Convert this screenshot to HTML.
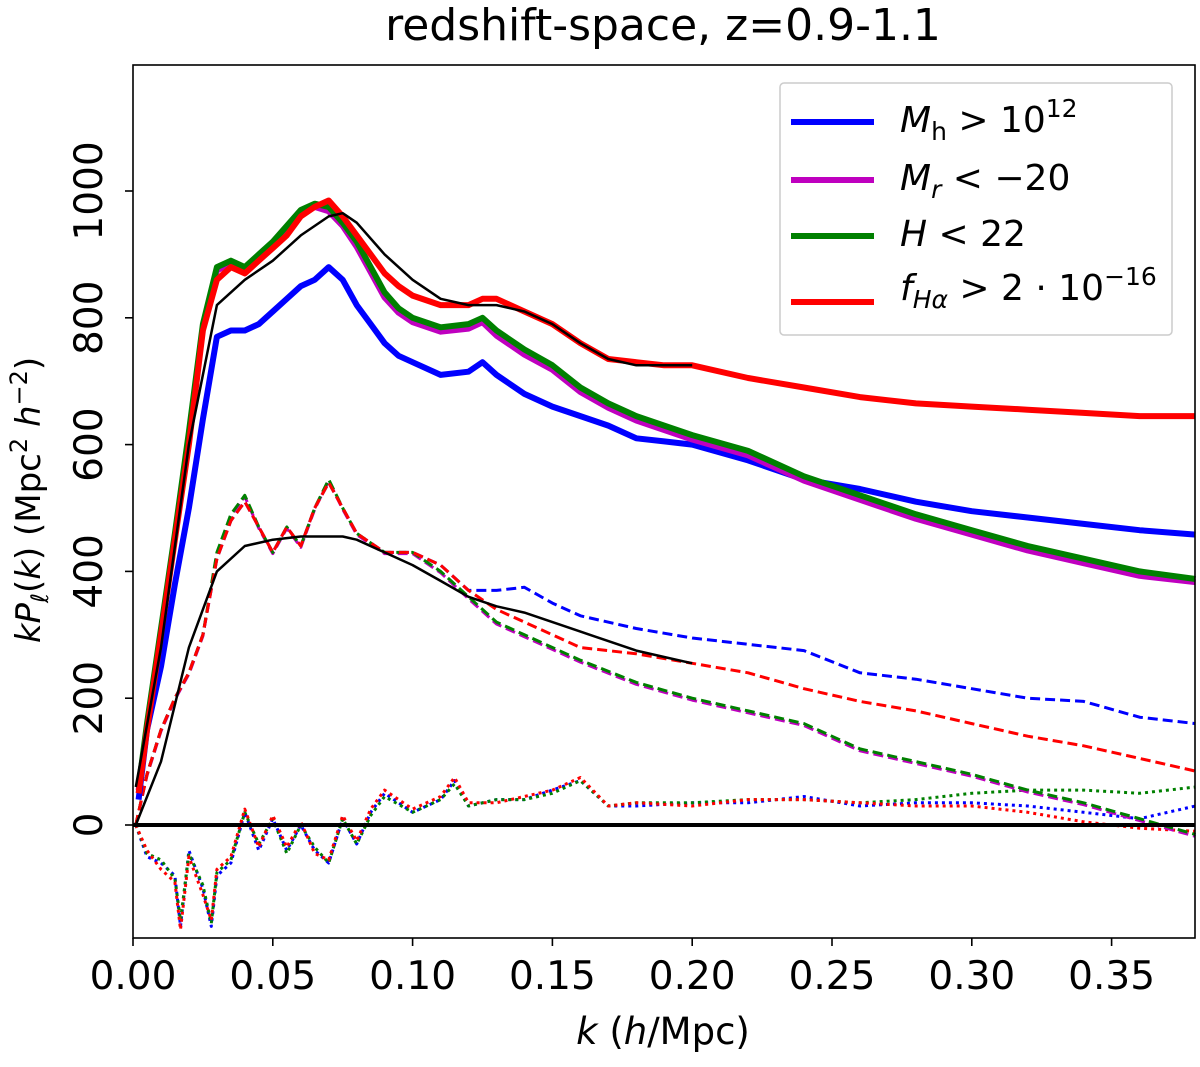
<!DOCTYPE html>
<html><head><meta charset="utf-8"><style>
body{margin:0;background:#fff}
svg text{font-family:"DejaVu Sans","Liberation Sans",sans-serif;fill:#000}
</style></head><body>
<svg id="c" width="1200" height="1062" xmlns="http://www.w3.org/2000/svg">
<rect width="1200" height="1062" fill="#fff"/>
<text x="663" y="40" font-size="44" text-anchor="middle">redshift-space, z=0.9-1.1</text>
<g id="plot"></g>
<rect x="133" y="65" width="1062" height="873" fill="none" stroke="#000" stroke-width="1.6"/>
<g id="ticks"></g>
<text x="663" y="1044" font-size="37" text-anchor="middle"><tspan font-style="italic">k</tspan> (<tspan font-style="italic">h</tspan>/Mpc)</text>
<text transform="translate(40,500) rotate(-90)" font-size="34" text-anchor="middle"><tspan font-style="italic">kP</tspan><tspan font-style="italic" font-size="24" dy="8">ℓ</tspan><tspan dy="-8">(</tspan><tspan font-style="italic">k</tspan>) (Mpc<tspan font-size="24" dy="-13">2</tspan><tspan dy="13"> </tspan><tspan font-style="italic">h</tspan><tspan font-size="24" dy="-13">−2</tspan><tspan dy="13">)</tspan></text>
<g>
<rect x="780" y="83" width="392" height="252" rx="4" fill="#fff" stroke="#ccc" stroke-width="1.5"/>
<g><line x1="791" y1="122" x2="874" y2="122" stroke="#0000ff" stroke-width="6"/><text x="900" y="132" font-size="36"><tspan font-style="italic">M</tspan><tspan font-size="25" dy="8">h</tspan><tspan dy="-8"> &gt; 10</tspan><tspan font-size="25" dy="-15">12</tspan></text></g>
<g><line x1="791" y1="180" x2="874" y2="180" stroke="#bf00bf" stroke-width="6"/><text x="900" y="190" font-size="36"><tspan font-style="italic">M</tspan><tspan font-size="25" dy="8" font-style="italic">r</tspan><tspan dy="-8"> &lt; −20</tspan></text></g>
<g><line x1="791" y1="236" x2="874" y2="236" stroke="#008000" stroke-width="6"/><text x="900" y="246" font-size="36"><tspan font-style="italic">H</tspan> &lt; 22</text></g>
<g><line x1="791" y1="302" x2="874" y2="302" stroke="#ff0000" stroke-width="6"/><text x="900" y="300" font-size="36"><tspan font-style="italic">f</tspan><tspan font-size="25" dy="8" font-style="italic">Hα</tspan><tspan dy="-8"> &gt; 2 · 10</tspan><tspan font-size="25" dy="-15">−16</tspan></text></g>
</g>
</svg>
<script>
const kMono=[0.002,0.005,0.01,0.015,0.02,0.025,0.03,0.035,0.04,0.045,0.05,0.055,0.06,0.065,0.07,0.075,0.08,0.085,0.09,0.095,0.1,0.11,0.12,0.125,0.13,0.14,0.15,0.16,0.17,0.18,0.19,0.2,0.22,0.24,0.26,0.28,0.3,0.32,0.34,0.36,0.38];
const redMono=[50,150,300,450,600,780,860,880,870,890,910,930,960,975,985,960,930,900,870,850,835,820,820,830,830,810,790,760,735,730,725,725,705,690,675,665,660,655,650,645,645];
const greenMono=[60,160,310,460,620,790,880,890,880,900,920,945,970,980,975,950,920,880,840,815,800,785,790,800,780,750,725,690,665,645,630,615,590,550,520,490,465,440,420,400,388];
const magentaMono=[55,155,305,455,615,785,875,885,875,895,915,940,965,975,968,945,912,872,832,808,793,778,783,793,772,742,718,683,658,638,623,608,583,543,513,483,458,433,413,393,383];
const blueMono=[40,150,250,380,500,640,770,780,780,790,810,830,850,860,880,860,820,790,760,740,730,710,715,730,710,680,660,645,630,610,605,600,575,545,530,510,495,485,475,465,458];
const kModel=[0.001,0.01,0.02,0.03,0.04,0.05,0.06,0.07,0.075,0.08,0.09,0.1,0.11,0.12,0.13,0.14,0.15,0.16,0.17,0.18,0.19,0.2];
const monoModel=[60,280,600,820,860,890,930,960,965,950,900,860,830,820,820,810,790,760,735,725,725,725];
const quadModel=[0,100,280,400,440,450,455,455,455,450,430,410,385,360,345,335,320,305,290,275,265,255];
const kQuad=[0.001,0.005,0.01,0.015,0.02,0.025,0.03,0.035,0.04,0.045,0.05,0.055,0.06,0.065,0.07,0.075,0.08,0.09,0.1,0.11,0.12,0.13,0.14,0.15,0.16,0.18,0.2,0.22,0.24,0.26,0.28,0.3,0.32,0.34,0.36,0.38];
const redQuad=[0,80,150,200,240,300,420,480,510,470,430,470,440,500,540,500,460,430,430,410,370,340,320,300,280,270,255,240,215,195,180,160,140,125,105,85];
const blueQuad=[0,80,150,200,240,300,420,480,510,470,430,470,440,500,540,500,460,430,430,410,370,370,375,350,330,310,295,285,275,240,230,215,200,195,170,160];
const greenQuad=[0,80,150,200,240,300,430,490,520,470,430,470,440,500,545,500,460,430,430,400,360,320,300,280,260,225,200,180,160,120,100,80,55,35,10,-15];
const magentaQuad=[0,78,148,198,238,298,428,488,518,468,428,468,438,498,543,498,458,428,428,398,357,317,297,277,257,222,197,177,157,117,97,77,52,32,7,-18];
const kHex=[0.001,0.005,0.01,0.015,0.017,0.02,0.025,0.028,0.03,0.035,0.04,0.045,0.05,0.055,0.06,0.065,0.07,0.075,0.08,0.085,0.09,0.1,0.11,0.115,0.12,0.13,0.14,0.15,0.16,0.17,0.18,0.2,0.22,0.24,0.26,0.28,0.3,0.32,0.34,0.36,0.38];
const blueHex=[0,-50,-60,-80,-160,-40,-100,-160,-80,-60,20,-40,10,-40,0,-40,-60,10,-30,20,50,20,40,70,30,40,40,55,70,30,30,35,35,45,30,35,35,30,20,10,30];
const redHex=[0,-40,-70,-90,-165,-50,-110,-150,-70,-50,25,-35,15,-35,5,-45,-55,15,-25,25,55,25,45,75,35,35,45,55,75,30,35,30,40,40,35,30,30,20,5,-5,-10];
const greenHex=[0,-45,-55,-85,-150,-45,-95,-155,-75,-55,20,-30,10,-45,0,-35,-60,10,-30,15,45,20,40,65,30,40,40,50,70,30,35,35,40,40,35,40,50,55,55,50,60];
const tickX=[0,0.05,0.1,0.15,0.2,0.25,0.3,0.35];
const tickXLabels=["0.00","0.05","0.10","0.15","0.20","0.25","0.30","0.35"];
const tickY=[0,200,400,600,800,1000];
const tickYLabels=["0","200","400","600","800","1000"];

const X=k=>133+k/0.05*139.8;
const Y=v=>825-v*0.634;
const NS="http://www.w3.org/2000/svg";
const plot=document.getElementById('plot');
function line(ks,vs,color,w,dash,name){
  const p=document.createElementNS(NS,'path');
  p.setAttribute('d',ks.map((k,i)=>(i?'L':'M')+X(k).toFixed(1)+','+Y(vs[i]).toFixed(1)).join(''));
  p.setAttribute('fill','none');p.setAttribute('stroke',color);p.setAttribute('stroke-width',w);
  p.setAttribute('stroke-linejoin','round');
  if(dash)p.setAttribute('stroke-dasharray',dash);
  
  
  plot.appendChild(p);
}
line(kHex,blueHex,'#0000ff',3,'3,4','hexadecapole-mh');
line(kHex,greenHex,'#008000',3,'3,4','hexadecapole-h');
line(kHex,redHex,'#ff0000',3,'3,4','hexadecapole-fha');
line(kQuad,blueQuad,'#0000ff',3,'10,5','quadrupole-mh');
line(kQuad,magentaQuad,'#bf00bf',3,'10,5','quadrupole-mr');
line(kQuad,greenQuad,'#008000',3,'10,5','quadrupole-h');
line(kQuad,redQuad,'#ff0000',3,'10,5','quadrupole-fha');
line(kMono,blueMono,'#0000ff',6,null,'monopole-mh');
line(kMono,magentaMono,'#bf00bf',6,null,'monopole-mr');
line(kMono,greenMono,'#008000',6,null,'monopole-h');
line(kMono,redMono,'#ff0000',6,null,'monopole-fha');
line(kModel,monoModel,'#000',2.5,null,'monopole-model');
line(kModel,quadModel,'#000',2.5,null,'quadrupole-model');
const z=document.createElementNS(NS,'line');
z.setAttribute('x1',133);z.setAttribute('x2',1195);z.setAttribute('y1',Y(0));z.setAttribute('y2',Y(0));
z.setAttribute('stroke','#000');z.setAttribute('stroke-width',4);


plot.appendChild(z);
const tg=document.getElementById('ticks');
tickX.forEach((t,i)=>{
  const l=document.createElementNS(NS,'line');
  l.setAttribute('x1',X(t));l.setAttribute('x2',X(t));l.setAttribute('y1',938);l.setAttribute('y2',946);l.setAttribute('stroke','#000');l.setAttribute('stroke-width',1.6);
  
  
  tg.appendChild(l);
  const tx=document.createElementNS(NS,'text');
  tx.setAttribute('x',X(t));tx.setAttribute('y',989);tx.setAttribute('font-size',39);tx.setAttribute('text-anchor','middle');
  tx.textContent=tickXLabels[i];
  
  
  tg.appendChild(tx);
});
tickY.forEach((t,i)=>{
  const l=document.createElementNS(NS,'line');
  l.setAttribute('x1',125);l.setAttribute('x2',133);l.setAttribute('y1',Y(t));l.setAttribute('y2',Y(t));l.setAttribute('stroke','#000');l.setAttribute('stroke-width',1.6);
  
  
  tg.appendChild(l);
  const tx=document.createElementNS(NS,'text');
  tx.setAttribute('transform','translate(102,'+Y(t)+') rotate(-90)');tx.setAttribute('font-size',39);tx.setAttribute('text-anchor','middle');
  tx.textContent=tickYLabels[i];
  
  
  tg.appendChild(tx);
});
</script>
</body></html>
